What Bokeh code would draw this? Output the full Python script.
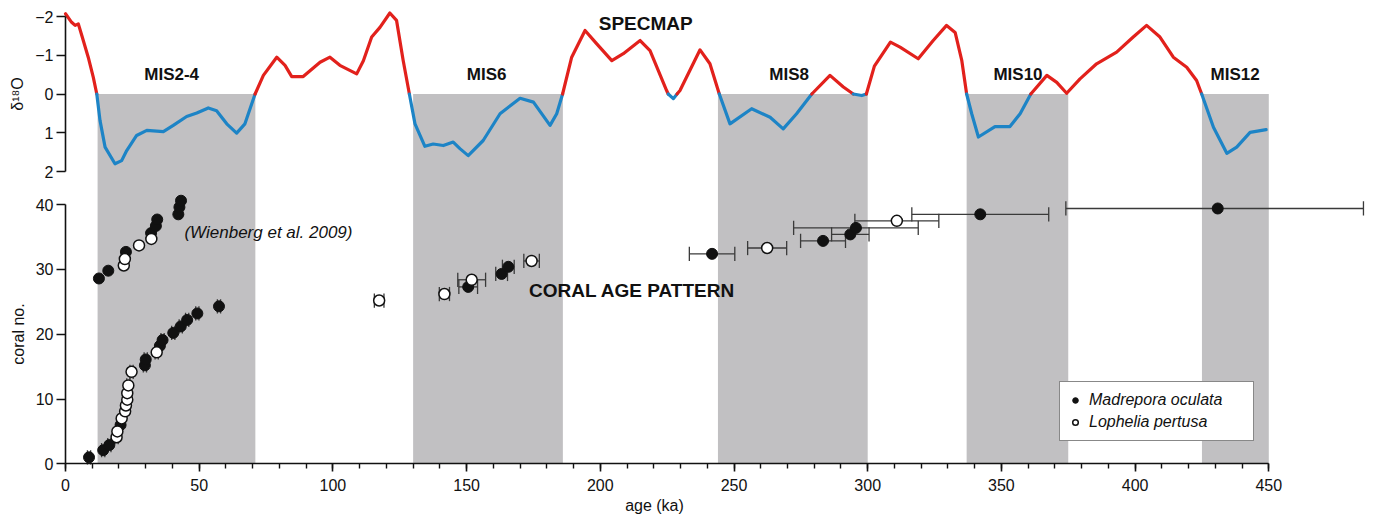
import numpy as np
from bokeh.plotting import figure
from bokeh.models import (Range1d, ColumnDataSource, FixedTicker, SingleIntervalTicker,
                          Legend, LegendItem, LinearAxis)
from bokeh.core.properties import value
from bokeh.embed import file_html
from bokeh.resources import INLINE

FONT = "Liberation Sans"

# ---------------- data ----------------
mis_labels = ["MIS2-4", "MIS6", "MIS8", "MIS10", "MIS12"]
mis_start = [12, 130, 244, 337, 425]
mis_end = [71, 186, 300, 375, 450]

spec_age = [0, 2.3, 3.6, 4.8, 6.1, 8.5, 10.4, 11.7, 12.9, 14.8, 18.5, 21, 22.9, 26.6, 30.4,
            36.6, 40.3, 45.3, 49.1, 53.4, 56.5, 60.3, 64, 67.1, 70.9, 74, 79, 82.1, 84.6,
            88.9, 95.2, 98.9, 102.6, 108.9, 111.4, 114.5, 117.6, 121.3, 123.8, 126.3, 128.6,
            130.7, 134.4, 137.5, 141.3, 145, 147.5, 150.6, 156.2, 162.5, 170, 175, 181.2,
            183.7, 185.9, 189.3, 194.3, 198.6, 204.3, 208.6, 214.9, 218.6, 224.8, 225.4,
            227.3, 228.7, 229.8, 237.3, 241, 244.5, 248.5, 256.6, 263.5, 268.4, 273.4, 279.1,
            285.9, 290.9, 294.6, 297.8, 299.5, 302.5, 308.5, 312.1, 318.9, 324.5, 329.5,
            332.7, 335.2, 337, 338.9, 341.4, 347.6, 353.2, 357, 361, 367, 370.7, 374.4,
            379.4, 385.6, 393.1, 399.3, 404.3, 409.3, 414.3, 419.3, 423, 424.9, 429.3,
            434.3, 438, 443, 449]
spec_d18o = [-2.07, -1.85, -1.77, -1.81, -1.51, -0.95, -0.43, 0, 0.68, 1.37, 1.80, 1.72, 1.46,
             1.07, 0.94, 0.97, 0.81, 0.58, 0.49, 0.36, 0.43, 0.77, 1.01, 0.77, 0, -0.48,
             -0.95, -0.74, -0.45, -0.45, -0.82, -0.95, -0.74, -0.52, -0.86, -1.47, -1.72,
             -2.09, -1.90, -0.86, 0, 0.77, 1.35, 1.29, 1.33, 1.24, 1.41, 1.59, 1.20, 0.51,
             0.11, 0.21, 0.81, 0.51, 0, -0.95, -1.64, -1.30, -0.86, -1.04, -1.38, -1.12,
             -0.09, 0, 0.12, 0, -0.09, -1.14, -0.78, 0, 0.77, 0.38, 0.60, 0.90, 0.51, 0,
             -0.48, -0.18, 0, 0.04, 0, -0.72, -1.34, -1.21, -0.91, -1.38, -1.77, -1.59,
             -0.86, 0, 0.51, 1.11, 0.84, 0.84, 0.51, 0, -0.48, -0.30, -0.02, -0.39, -0.78,
             -1.08, -1.47, -1.77, -1.47, -0.95, -0.69, -0.35, 0, 0.86, 1.53, 1.37, 0.99, 0.92]

# Madrepora oculata (this record)
mad_age = [8.8, 14.1, 16.4, 20.6, 29.7, 30.0, 35.3, 36.3, 40.3, 43.1, 45.5, 49.3, 57.4,
           150.6, 163.1, 165.6, 241.8, 283.3, 293.5, 295.6, 342.1, 430.9]
mad_no = [1.0, 2.1, 2.9, 6.0, 15.2, 16.1, 18.2, 19.1, 20.2, 21.2, 22.2, 23.2, 24.3,
          27.3, 29.3, 30.4, 32.4, 34.4, 35.4, 36.4, 38.5, 39.4]
mad_err_lo = [0.6, 0.6, 0.6, 0.6, 0.6, 0.6, 0.6, 0.6, 0.6, 0.6, 0.6, 0.6, 0.6,
              3.5, 2.2, 2.2, 8.5, 8.4, 7.0, 23.3, 25.6, 56.8]
mad_err_hi = [0.6, 0.6, 0.6, 0.6, 0.6, 0.6, 0.6, 0.6, 0.6, 0.6, 0.6, 0.6, 0.6,
              3.5, 2.2, 2.2, 8.5, 8.4, 7.0, 23.3, 25.6, 54.5]

# Lophelia pertusa (this record)
lop_age = [19.1, 19.4, 21.0, 22.3, 22.6, 23.1, 23.1, 23.5, 24.7, 34.1, 117.3, 141.7, 151.9,
           174.3, 262.4, 310.9]
lop_no = [4.1, 5.0, 7.0, 8.1, 9.0, 9.9, 10.9, 12.1, 14.2, 17.2, 25.2, 26.2, 28.4, 31.3,
          33.3, 37.5]
lop_err_lo = [0.6, 0.6, 0.6, 0.6, 0.6, 0.6, 0.6, 0.6, 0.6, 0.6, 1.8, 1.9, 5.2, 2.9, 7.3, 15.7]
lop_err_hi = [0.6, 0.6, 0.6, 0.6, 0.6, 0.6, 0.6, 0.6, 0.6, 0.6, 1.8, 1.9, 5.2, 2.9, 7.3, 15.7]

# Wienberg et al. 2009
wien_mad_age = [12.5, 16.0, 22.6, 32.0, 33.8, 34.3, 42.2, 42.6, 43.2]
wien_mad_no = [28.6, 29.8, 32.7, 35.6, 36.7, 37.7, 38.5, 39.6, 40.6]
wien_lop_age = [21.8, 22.2, 27.5, 32.1]
wien_lop_no = [30.6, 31.6, 33.7, 34.7]

# ---------------- layout (pixels) ----------------
W, H = 1368, 517
FRAME_TOP = 10
PX_AGE0 = 65.0          # x pixel of age 0
PX_PER_KA = 2.674
PX_D18_0 = 93.5         # y pixel of d18O = 0
PX_PER_D18 = 38.75
PX_CORAL0 = 463.3       # y pixel of coral no. = 0
PX_PER_CORAL = 6.48

x_start = -PX_AGE0 / PX_PER_KA
x_end = (W - PX_AGE0) / PX_PER_KA
coral_start = -(H - PX_CORAL0) / PX_PER_CORAL
coral_end = (PX_CORAL0 - FRAME_TOP) / PX_PER_CORAL
d18_bottom = (H - PX_D18_0) / PX_PER_D18
d18_top = -(PX_D18_0 - FRAME_TOP) / PX_PER_D18
d18_at_coral0 = (PX_CORAL0 - PX_D18_0) / PX_PER_D18

# ---------------- style ----------------
RED = "#e2211c"
BLUE = "#1d84c6"
GRAY = "#c1c0c2"
INK = "#111111"
ERR = "#3a3a3a"


def style_axis(ax):
    ax.axis_line_color = INK
    ax.axis_line_width = 1.6
    ax.major_tick_line_color = INK
    ax.major_tick_line_width = 1.6
    ax.minor_tick_line_color = INK
    ax.minor_tick_line_width = 1.4
    ax.major_label_text_font = FONT
    ax.major_label_text_font_size = "16px"
    ax.major_label_text_color = INK
    ax.axis_label_text_font = FONT
    ax.axis_label_text_font_size = "16px"
    ax.axis_label_text_font_style = "normal"
    ax.axis_label_text_color = INK


p = figure(width=W, height=H, x_range=Range1d(x_start, x_end),
           y_range=Range1d(coral_start, coral_end),
           x_axis_type=None, y_axis_type=None, output_backend="svg", toolbar_location=None,
           min_border_left=0, min_border_right=0, min_border_top=FRAME_TOP, min_border_bottom=0)
p.extra_y_ranges = {"d18": Range1d(start=d18_bottom, end=d18_top)}
p.outline_line_color = None

# glacial stage bands: from the d18O zero line down to the age axis
p.quad(left=mis_start, right=mis_end, bottom=[0] * len(mis_start),
       top=[d18_at_coral0] * len(mis_start), fill_color=GRAY, line_color=None,
       y_range_name="d18")

# SPECMAP curve, red above / blue below the zero line
segs_x, segs_y, segs_c = [], [], []
cur_x, cur_y, cur_c = [spec_age[0]], [spec_d18o[0]], None
for i in range(len(spec_age) - 1):
    c = RED if (spec_d18o[i] + spec_d18o[i + 1]) / 2 < 0 else BLUE
    if cur_c is None:
        cur_c = c
    if c != cur_c:
        segs_x.append(cur_x); segs_y.append(cur_y); segs_c.append(cur_c)
        cur_x, cur_y, cur_c = [spec_age[i]], [spec_d18o[i]], c
    cur_x.append(spec_age[i + 1]); cur_y.append(spec_d18o[i + 1])
segs_x.append(cur_x); segs_y.append(cur_y); segs_c.append(cur_c)
p.multi_line("xs", "ys", line_color="c", line_width=3.2, line_join="round", line_cap="round",
             source=ColumnDataSource(dict(xs=segs_x, ys=segs_y, c=segs_c)), y_range_name="d18")

mis_label_x = [39.7, 157.5, 270.6, 356.2, 437.4]
p.text(x=mis_label_x, y=[-0.5] * 5, text=mis_labels, text_font=value(FONT),
       text_font_style="bold", text_font_size="17px", text_color=INK,
       text_align="center", text_baseline="middle", y_range_name="d18")
p.text(x=[217], y=[-1.81], text=["SPECMAP"], text_font=value(FONT), text_font_style="bold",
       text_font_size="19px", text_color=INK, text_align="center", text_baseline="middle",
       y_range_name="d18")

# coral ages
CAP = 1.1


def errbars(ages, nos, lo, hi):
    x0 = [a - l for a, l in zip(ages, lo)]
    x1 = [a + h for a, h in zip(ages, hi)]
    p.segment(x0=x0, y0=nos, x1=x1, y1=nos, line_color=ERR, line_width=1.3)
    ylo = [n - CAP for n in nos]
    yhi = [n + CAP for n in nos]
    p.segment(x0=x0, y0=ylo, x1=x0, y1=yhi, line_color=ERR, line_width=1.3)
    p.segment(x0=x1, y0=ylo, x1=x1, y1=yhi, line_color=ERR, line_width=1.3)


errbars(mad_age, mad_no, mad_err_lo, mad_err_hi)
errbars(lop_age, lop_no, lop_err_lo, lop_err_hi)

r_mad = p.scatter(x=mad_age, y=mad_no, marker="circle", size=11, fill_color=INK,
                  line_color=INK)
r_lop = p.scatter(x=lop_age, y=lop_no, marker="circle", size=11, fill_color="white",
                  line_color=INK, line_width=1.5)
p.scatter(x=wien_mad_age, y=wien_mad_no, marker="circle", size=11, fill_color=INK,
          line_color=INK)
p.scatter(x=wien_lop_age, y=wien_lop_no, marker="circle", size=11, fill_color="white",
          line_color=INK, line_width=1.5)

p.text(x=[75.9], y=[35.7], text=["(Wienberg et al. 2009)"], text_font=value(FONT),
       text_font_style="italic", text_font_size="17px", text_color=INK,
       text_align="center", text_baseline="middle")
p.text(x=[211.9], y=[26.7], text=["CORAL AGE PATTERN"], text_font=value(FONT),
       text_font_style="bold", text_font_size="19px", text_color=INK,
       text_align="center", text_baseline="middle")

legend = Legend(items=[LegendItem(label="Madrepora oculata", renderers=[r_mad]),
                       LegendItem(label="Lophelia pertusa", renderers=[r_lop])],
                location=(1059, int(H - 441)), padding=8, spacing=2, glyph_width=14,
                glyph_height=20, label_height=20, label_width=156, label_standoff=7,
                label_text_font=FONT, label_text_font_style="italic",
                label_text_font_size="16px", label_text_color=INK,
                border_line_color=INK, border_line_width=1.5, background_fill_color="white",
                background_fill_alpha=1.0, margin=0)
p.add_layout(legend)

# age axis pinned at coral no. 0
xa = LinearAxis(fixed_location=0, ticker=SingleIntervalTicker(interval=50, num_minor_ticks=5),
                bounds=(0, 450))
style_axis(xa)
xa.major_tick_out = 8
xa.major_tick_in = 0
xa.minor_tick_out = 5
xa.minor_tick_in = 0
xa.major_label_standoff = 7
p.add_layout(xa, "below")

# axis title "age (ka)" placed under the tick labels
p.text(x=[(654 - PX_AGE0) / PX_PER_KA], y=[-(505 - PX_CORAL0) / PX_PER_CORAL],
       text=["age (ka)"], text_font=value(FONT), text_font_size="16px", text_color=INK,
       text_align="center", text_baseline="middle")

# coral number axis and d18O axis, both pinned at age 0
yb = LinearAxis(fixed_location=0, ticker=FixedTicker(ticks=[0, 10, 20, 30, 40]),
                bounds=(0, 40), axis_label="coral no.")
d18_axis = LinearAxis(y_range_name="d18", fixed_location=0,
                      ticker=FixedTicker(ticks=[-2, -1, 0, 1, 2]), bounds=(-2, 2),
                      axis_label="δ¹⁸O")
for ax in (yb, d18_axis):
    style_axis(ax)
    ax.major_tick_out = 9
    ax.major_tick_in = 0
    ax.minor_tick_out = 0
    ax.major_label_standoff = 3
    ax.axis_label_standoff = 6
    p.add_layout(ax, "left")

open("out.html", "w").write(file_html(p, INLINE))
